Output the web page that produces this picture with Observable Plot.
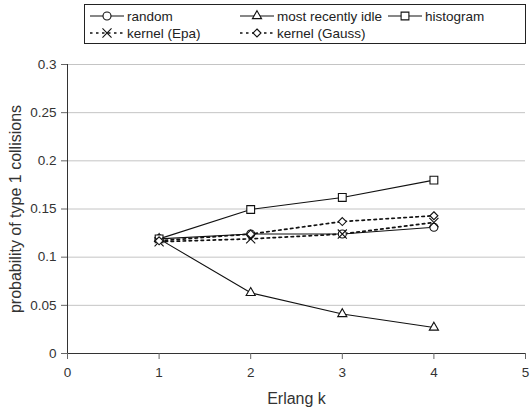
<!DOCTYPE html>
<html>
<head>
<meta charset="utf-8">
<script src="https://cdn.jsdelivr.net/npm/d3@7"></script>
<script src="https://cdn.jsdelivr.net/npm/@observablehq/plot@0.6"></script>
<style>
  html, body { margin: 0; padding: 0; background: #fff; }
  body { width: 531px; height: 412px; overflow: hidden; font-family: "Liberation Sans", Arial, sans-serif; }
  #legend { position: relative; height: 48px; }
</style>
</head>
<body>
<div id="legend"></div>
<div id="chart"></div>
<script>
const erlangK = [1, 2, 3, 4];
const seriesNames = ["random", "most recently idle", "histogram", "kernel (Epa)", "kernel (Gauss)"];
const randomVals = [0.119, 0.124, 0.124, 0.131];
const mostRecentlyIdle = [0.119, 0.063, 0.041, 0.027];
const histogramVals = [0.119, 0.1495, 0.162, 0.180];
const kernelEpa = [0.116, 0.119, 0.124, 0.136];
const kernelGauss = [0.117, 0.124, 0.137, 0.143];
const xTicks = [0, 1, 2, 3, 4, 5];
const yTicks = [0, 0.05, 0.1, 0.15, 0.2, 0.25, 0.3];

const symbols = {"random": "circle", "most recently idle": "triangle", "histogram": "square", "kernel (Epa)": "times", "kernel (Gauss)": "diamond2"};
const symR = {circle: 4, triangle: 3.4, square: 4.4, times: 4.2, diamond2: 3.6};
const dashed = {"random": false, "most recently idle": false, "histogram": false, "kernel (Epa)": true, "kernel (Gauss)": true};
const valuesBy = {"random": randomVals, "most recently idle": mostRecentlyIdle, "histogram": histogramVals, "kernel (Epa)": kernelEpa, "kernel (Gauss)": kernelGauss};

const rows = [];
for (const s of seriesNames) erlangK.forEach((k, i) => rows.push({series: s, k, v: valuesBy[s][i]}));

const marks = [
  Plot.gridY(yTicks.filter(d => d > 0), {stroke: "#c4c4c4", strokeOpacity: 1, strokeWidth: 1}),
  Plot.ruleY([0], {stroke: "#333"}),
  Plot.ruleX([0], {stroke: "#333"}),
  Plot.axisX(xTicks, {tickSize: 6, tickPadding: 8, fontSize: 13.5, fill: "#333", stroke: "#666", label: "Erlang k", labelAnchor: "center", labelArrow: "none", labelOffset: 50}),
  Plot.axisY(yTicks, {tickSize: 6, tickPadding: 5, fontSize: 13.5, fill: "#333", stroke: "#666", tickFormat: d => String(d), label: "probability of type 1 collisions", labelAnchor: "center", labelArrow: "none", labelOffset: 58})
];
for (const s of seriesNames) {
  const data = rows.filter(r => r.series === s);
  marks.push(Plot.line(data, {x: "k", y: "v", stroke: "#111", strokeWidth: dashed[s] ? 1.7 : 1.1, strokeDasharray: dashed[s] ? "2.5,3.5" : null}));
}
for (const s of seriesNames) {
  const data = rows.filter(r => r.series === s);
  const sym = symbols[s];
  marks.push(Plot.dot(data, {x: "k", y: "v", symbol: () => sym, r: symR[sym], fill: sym === "times" ? "none" : "white", stroke: "#111", strokeWidth: 1.1}));
}

const chart = Plot.plot({
  width: 531,
  height: 364,
  marginTop: 16,
  marginBottom: 59,
  marginLeft: 67,
  marginRight: 6,
  style: {fontFamily: "Liberation Sans, Arial, sans-serif", fontSize: "13.5px", color: "#333", background: "white"},
  x: {domain: [0, 5]},
  y: {domain: [0, 0.3]},
  symbol: {type: "identity"},
  marks
});
chart.querySelectorAll("text").forEach(t => {
  if (t.textContent === "Erlang k" || t.textContent === "probability of type 1 collisions") t.setAttribute("font-size", "16");
});
document.getElementById("chart").appendChild(chart);

// Legend built from the series names and their styles
const legendItems = [
  {name: "random", x: 90, y: 16},
  {name: "most recently idle", x: 240, y: 16},
  {name: "histogram", x: 388, y: 16},
  {name: "kernel (Epa)", x: 90, y: 33},
  {name: "kernel (Gauss)", x: 240, y: 33}
];
const lg = d3.select("#legend").append("svg").attr("width", 531).attr("height", 48);
lg.append("rect").attr("x", 84.5).attr("y", 4.5).attr("width", 441).attr("height", 39).attr("fill", "white").attr("stroke", "#222");
const symFor = {circle: d3.symbolCircle, triangle: d3.symbolTriangle, square: d3.symbolSquare, times: d3.symbolTimes, diamond2: d3.symbolDiamond2};
for (const it of legendItems) {
  const g = lg.append("g");
  const dsh = dashed[it.name];
  g.append("line").attr("x1", it.x).attr("x2", it.x + 34).attr("y1", it.y).attr("y2", it.y)
    .attr("stroke", "#111").attr("stroke-width", dsh ? 1.7 : 1.1).attr("stroke-dasharray", dsh ? "2.5,3.5" : null);
  const sym = symbols[it.name];
  const rr = symR[sym];
  g.append("path").attr("transform", `translate(${it.x + 17},${it.y})`)
    .attr("d", d3.symbol(symFor[sym], Math.PI * rr * rr)())
    .attr("fill", sym === "times" ? "none" : "white").attr("stroke", "#111").attr("stroke-width", 1.1);
  g.append("text").attr("x", it.x + 37).attr("y", it.y).attr("dy", "0.35em")
    .attr("font-size", 13.5).attr("fill", "#222").attr("font-family", "Liberation Sans, Arial, sans-serif").text(it.name);
}
</script>
</body>
</html>
